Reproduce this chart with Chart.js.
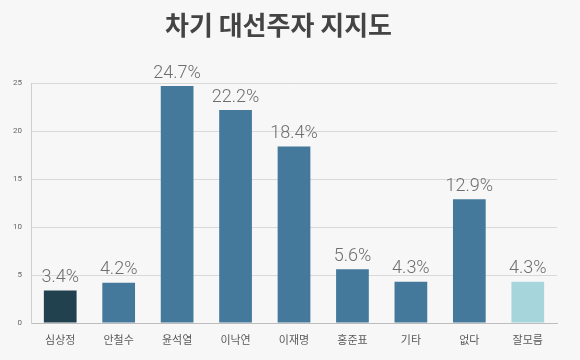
<!DOCTYPE html>
<html>
<head>
<meta charset="utf-8">
<script src="https://cdn.jsdelivr.net/npm/chart.js@4"></script>
<style>
  html, body { margin: 0; padding: 0; background: #f7f7f7; }
  #wrap { width: 580px; height: 360px; }
</style>
</head>
<body>
<div id="wrap"><canvas id="grafikas" width="580" height="360"></canvas></div>
<script>
var candidates = ["심상정", "안철수", "윤석열", "이낙연", "이재명", "홍준표", "기타", "없다", "잘모름"];
var support = [3.4, 4.2, 24.7, 22.2, 18.4, 5.6, 4.3, 12.9, 4.3];
var barColors = ["#22414f", "#44799b", "#44799b", "#44799b", "#44799b", "#44799b", "#44799b", "#44799b", "#a6d6dc"];
var yTicks = [0, 5, 10, 15, 20, 25];

// reiksmes virs stulpeliu
var valueLabels = {
    id: 'valueLabels',
    afterDatasetsDraw: function(chart) {
        var ctx = chart.ctx;
        var meta = chart.getDatasetMeta(0);
        ctx.save();
        ctx.font = '300 18px Roboto, "Noto Sans", sans-serif';
        ctx.fillStyle = '#6e6e6e';
        ctx.textAlign = 'center';
        ctx.textBaseline = 'bottom';
        meta.data.forEach(function(bar, i) {
            ctx.fillText(support[i].toFixed(1) + '%', bar.x, bar.y - 4);
        });
        ctx.restore();
    }
};

var ctx = document.getElementById('grafikas').getContext('2d');
var chart = new Chart(ctx, {
    type: 'bar',
    data: {
        labels: candidates,
        datasets: [{
            data: support,
            backgroundColor: barColors,
            barPercentage: 0.56,
            categoryPercentage: 1
        }]
    },
    options: {
        responsive: false,
        animation: false,
        layout: { padding: { left: 0, right: 23, top: 0, bottom: 0 } },
        plugins: {
            legend: { display: false },
            tooltip: { enabled: false },
            title: {
                display: true,
                text: '차기 대선주자 지지도',
                color: '#444444',
                font: { family: '"Noto Sans CJK KR", sans-serif', size: 26, weight: 'bold' },
                padding: { top: 10, bottom: 42 }
            }
        },
        scales: {
            x: {
                grid: { display: false, drawTicks: false },
                border: { display: true, color: '#bdbdbd' },
                ticks: {
                    color: '#5a5a5a',
                    padding: 10,
                    font: { family: '"Noto Sans CJK KR", sans-serif', size: 11 }
                },
                afterFit: function(scale) { scale.height = 37; }
            },
            y: {
                min: 0,
                max: 25,
                afterBuildTicks: function(scale) {
                    scale.ticks = yTicks.map(function(v) { return { value: v }; });
                },
                grid: { color: '#d9d9d9', drawTicks: false },
                border: { display: true, color: '#cfcfcf' },
                ticks: {
                    color: '#666666',
                    padding: 9,
                    font: { family: 'Roboto, sans-serif', size: 8 }
                },
                afterFit: function(scale) { scale.width = 31; }
            }
        }
    },
    plugins: [valueLabels]
});
</script>
</body>
</html>
